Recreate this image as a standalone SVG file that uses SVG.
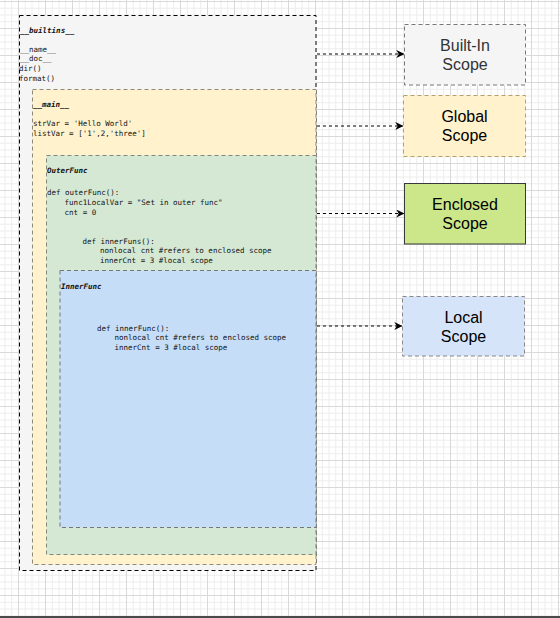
<svg xmlns="http://www.w3.org/2000/svg" width="560" height="618" viewBox="0 0 560 618">
  <defs>
    <pattern id="grid" patternUnits="userSpaceOnUse" x="18" y="1" width="27" height="27">
      <path d="M7.25 0V27M14 0V27M20.75 0V27M0 7.25H27M0 14H27M0 20.75H27" stroke="#ededed" stroke-width="1" fill="none"/>
      <path d="M0.5 0V27M0 0.5H27" stroke="#d9d9d9" stroke-width="1" fill="none"/>
    </pattern>
    <marker id="arrow" viewBox="0 0 10 10" refX="9" refY="5" markerWidth="8" markerHeight="8" markerUnits="userSpaceOnUse" orient="auto">
      <path d="M0 0 L10 5 L0 10 L3 5 Z" fill="#000"/>
    </marker>
  </defs>
  <style>
    .code { font-family: "DejaVu Sans Mono", "Liberation Mono", monospace; font-size: 7.5px; fill: #111; }
    .title { font-family: "DejaVu Sans Mono", "Liberation Mono", monospace; font-size: 7.5px; font-weight: bold; font-style: italic; fill: #111; }
    .label { font-family: "Liberation Sans", Arial, sans-serif; font-size: 16px; text-anchor: middle; fill: #000; }
    .conn { stroke: #000; stroke-width: 1; stroke-dasharray: 3 3; fill: none; }
  </style>
  <rect x="0" y="0" width="560" height="618" fill="#ffffff"/>
  <rect x="0" y="0" width="560" height="616" fill="url(#grid)"/>
  <rect x="0" y="616" width="560" height="2" fill="#4a4a4a"/>

  <g id="builtins">
    <rect x="19.5" y="15.5" width="296.5" height="555" fill="#f5f5f5" stroke="#000" stroke-dasharray="4 3"/>
    <text class="title" x="20" y="32.5">__builtins__</text>
    <text class="code" x="20" y="51.5">__name__</text>
    <text class="code" x="20" y="61.2">__doc__</text>
    <text class="code" x="19" y="70.9">dir()</text>
    <text class="code" x="19" y="80.6">format()</text>
  </g>

  <g id="main">
    <rect x="32.5" y="89.5" width="283.5" height="475" fill="#fff2cc" stroke="#8f8a78" stroke-dasharray="4 3"/>
    <text class="title" x="33" y="106.5">__main__</text>
    <text class="code" x="33" y="125.8">strVar = 'Hello World'</text>
    <text class="code" x="33" y="135.5">listVar = ['1',2,'three']</text>
  </g>

  <g id="outerfunc">
    <rect x="46.5" y="155.5" width="269.5" height="399" fill="#d5e8d4" stroke="#7f8a7e" stroke-dasharray="4 3"/>
    <text class="title" x="47" y="172.5">OuterFunc</text>
    <text class="code" x="47" y="195.2">def outerFunc():</text>
    <text class="code" x="64.6" y="204.9">func1LocalVar = "Set in outer func"</text>
    <text class="code" x="64.6" y="214.6">cnt = 0</text>
    <text class="code" x="82.5" y="243.7">def innerFuns():</text>
    <text class="code" x="100" y="253.4">nonlocal cnt #refers to enclosed scope</text>
    <text class="code" x="100" y="263.1">innerCnt = 3 #local scope</text>
  </g>

  <g id="innerfunc">
    <rect x="60" y="270.5" width="256" height="257" fill="#c6ddf8" stroke="#777" stroke-dasharray="4 3"/>
    <text class="title" x="61" y="288.5">InnerFunc</text>
    <text class="code" x="97" y="330.5">def innerFunc():</text>
    <text class="code" x="114.5" y="340.2">nonlocal cnt #refers to enclosed scope</text>
    <text class="code" x="114.5" y="349.9">innerCnt = 3 #local scope</text>
  </g>

  <g id="builtin-scope">
    <rect x="404.5" y="24.5" width="121" height="60.5" fill="#f5f5f5" stroke="#777" stroke-dasharray="4 3"/>
    <text class="label" x="465" y="50.5" style="fill:#333">Built-In</text>
    <text class="label" x="465" y="69.5" style="fill:#333">Scope</text>
  </g>

  <g id="global-scope">
    <rect x="403.5" y="95.5" width="122" height="61" fill="#fff2cc" stroke="#b5a06a" stroke-dasharray="4 3"/>
    <text class="label" x="464.5" y="121.5">Global</text>
    <text class="label" x="464.5" y="140.5">Scope</text>
  </g>

  <g id="enclosed-scope">
    <rect x="404.5" y="183.5" width="121" height="60.5" fill="#cce68a" stroke="#36393d"/>
    <text class="label" x="465" y="209.5">Enclosed</text>
    <text class="label" x="465" y="228.5">Scope</text>
  </g>

  <g id="local-scope">
    <rect x="402.5" y="296.5" width="122" height="59.5" fill="#d5e4f9" stroke="#888" stroke-dasharray="4 3"/>
    <text class="label" x="463.5" y="322.5">Local</text>
    <text class="label" x="463.5" y="341.5">Scope</text>
  </g>

  <g id="connectors">
    <path class="conn" d="M317 54H403.5" marker-end="url(#arrow)"/>
    <path class="conn" d="M317 126H402.5" marker-end="url(#arrow)"/>
    <path class="conn" d="M317 213.5H403.5" marker-end="url(#arrow)"/>
    <path class="conn" d="M317 326H401.5" marker-end="url(#arrow)"/>
  </g>
</svg>
